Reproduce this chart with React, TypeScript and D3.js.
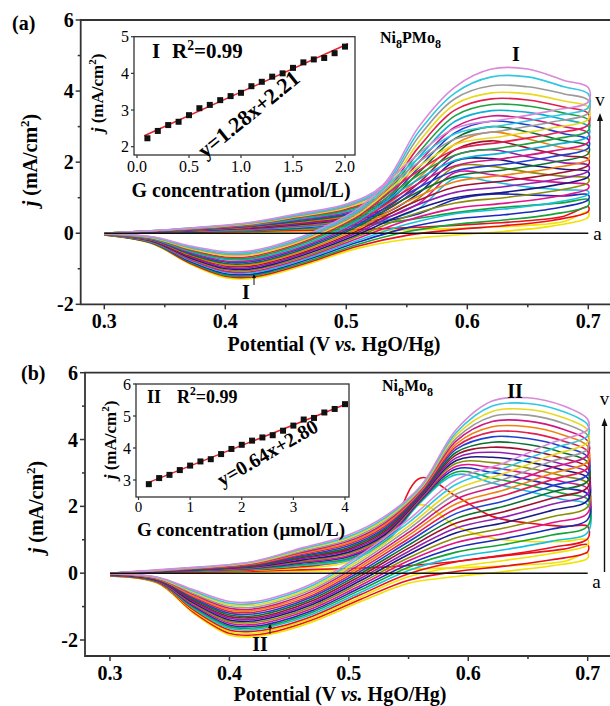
import React from 'react';
import * as d3 from 'd3';

const SERIF = '"Liberation Serif", "Times New Roman", Times, serif';

// potential grid (V) for the anodic and the cathodic half of every scan
const fwdV = [0.30, 0.36, 0.42, 0.46, 0.50, 0.53, 0.56, 0.59, 0.62, 0.65, 0.68, 0.70];
const revV = [0.70, 0.67, 0.63, 0.59, 0.55, 0.51, 0.47, 0.44, 0.42, 0.40, 0.37, 0.34, 0.30];

// (a) Ni8PMo8, lowest glucose level first
const fwdA = [
  [0, 0.01, 0.03, 0.05, 0.06, 0.08, 0.10, 0.13, 0.17, 0.22, 0.33, 0.60],
  [0, 0.02, 0.05, 0.08, 0.10, 0.13, 0.17, 0.22, 0.28, 0.35, 0.48, 0.75],
  [0, 0.03, 0.07, 0.12, 0.19, 0.28, 0.42, 0.58, 0.70, 0.78, 0.86, 0.95],
  [0, 0.03, 0.09, 0.15, 0.23, 0.33, 0.55, 0.95, 1.10, 1.08, 1.05, 1.08],
  [0, 0.04, 0.10, 0.17, 0.26, 0.35, 0.70, 1.55, 1.45, 1.30, 1.22, 1.18],
  [0, 0.05, 0.11, 0.20, 0.30, 0.41, 0.84, 1.71, 1.65, 1.50, 1.42, 1.36],
  [0, 0.05, 0.13, 0.22, 0.33, 0.48, 0.99, 1.87, 1.88, 1.72, 1.60, 1.55],
  [0, 0.06, 0.14, 0.24, 0.37, 0.54, 1.13, 2.03, 2.10, 1.92, 1.80, 1.73],
  [0, 0.06, 0.15, 0.26, 0.40, 0.60, 1.28, 2.19, 2.35, 2.15, 1.98, 1.91],
  [0, 0.07, 0.16, 0.29, 0.44, 0.66, 1.42, 2.35, 2.60, 2.40, 2.18, 2.09],
  [0, 0.07, 0.18, 0.31, 0.47, 0.73, 1.56, 2.51, 2.85, 2.65, 2.40, 2.28],
  [0, 0.08, 0.19, 0.33, 0.51, 0.79, 1.71, 2.67, 3.00, 2.85, 2.60, 2.46],
  [0, 0.08, 0.20, 0.36, 0.54, 0.85, 1.85, 2.83, 3.15, 3.05, 2.80, 2.64],
  [0, 0.09, 0.21, 0.38, 0.58, 0.91, 2.00, 2.99, 3.30, 3.22, 3.00, 2.82],
  [0, 0.09, 0.23, 0.40, 0.61, 0.98, 2.14, 3.15, 3.45, 3.40, 3.20, 3.01],
  [0, 0.10, 0.24, 0.43, 0.65, 1.04, 2.28, 3.31, 3.62, 3.58, 3.38, 3.19],
  [0, 0.10, 0.25, 0.45, 0.68, 1.10, 2.43, 3.47, 3.78, 3.75, 3.55, 3.37],
  [0, 0.11, 0.26, 0.47, 0.72, 1.16, 2.57, 3.63, 3.95, 3.92, 3.72, 3.55],
  [0, 0.11, 0.28, 0.49, 0.75, 1.23, 2.72, 3.79, 4.15, 4.12, 3.92, 3.74],
  [0, 0.12, 0.29, 0.52, 0.79, 1.29, 2.86, 3.95, 4.40, 4.40, 4.12, 3.92],
  [0, 0.12, 0.30, 0.55, 0.82, 1.35, 3.00, 4.12, 4.62, 4.62, 4.30, 4.10],
];
const revA = [
  [0.45, 0.20, 0.05, -0.05, -0.17, -0.42, -0.85, -1.15, -1.28, -1.25, -0.85, -0.30, -0.05],
  [0.61, 0.36, 0.21, 0.10, -0.06, -0.36, -0.81, -1.11, -1.24, -1.21, -0.83, -0.29, -0.05],
  [0.78, 0.53, 0.37, 0.25, 0.04, -0.31, -0.77, -1.07, -1.20, -1.18, -0.80, -0.28, -0.05],
  [0.94, 0.69, 0.52, 0.40, 0.15, -0.25, -0.72, -1.03, -1.16, -1.14, -0.78, -0.27, -0.04],
  [1.10, 0.85, 0.68, 0.55, 0.25, -0.20, -0.68, -0.99, -1.12, -1.10, -0.75, -0.26, -0.04],
  [1.26, 1.01, 0.84, 0.70, 0.36, -0.14, -0.64, -0.95, -1.09, -1.07, -0.73, -0.25, -0.04],
  [1.43, 1.18, 1.00, 0.85, 0.47, -0.08, -0.60, -0.91, -1.05, -1.03, -0.70, -0.24, -0.04],
  [1.59, 1.34, 1.15, 1.00, 0.57, -0.03, -0.55, -0.87, -1.01, -0.99, -0.68, -0.23, -0.03],
  [1.75, 1.50, 1.31, 1.15, 0.68, 0.03, -0.51, -0.83, -0.97, -0.96, -0.65, -0.22, -0.03],
  [1.91, 1.66, 1.47, 1.30, 0.78, 0.08, -0.47, -0.79, -0.93, -0.92, -0.63, -0.21, -0.03],
  [2.08, 1.83, 1.63, 1.45, 0.89, 0.14, -0.43, -0.75, -0.89, -0.89, -0.60, -0.20, -0.03],
  [2.24, 1.99, 1.78, 1.60, 1.00, 0.20, -0.38, -0.71, -0.85, -0.85, -0.58, -0.19, -0.02],
  [2.40, 2.15, 1.94, 1.75, 1.10, 0.25, -0.34, -0.67, -0.81, -0.81, -0.55, -0.18, -0.02],
  [2.56, 2.31, 2.10, 1.90, 1.21, 0.31, -0.30, -0.63, -0.77, -0.78, -0.53, -0.17, -0.02],
  [2.73, 2.48, 2.26, 2.05, 1.31, 0.36, -0.26, -0.59, -0.73, -0.74, -0.50, -0.16, -0.02],
  [2.89, 2.64, 2.41, 2.20, 1.42, 0.42, -0.21, -0.55, -0.70, -0.70, -0.48, -0.15, -0.01],
  [3.05, 2.80, 2.57, 2.35, 1.53, 0.48, -0.17, -0.51, -0.66, -0.67, -0.45, -0.14, -0.01],
  [3.21, 2.96, 2.73, 2.50, 1.63, 0.53, -0.13, -0.47, -0.62, -0.63, -0.43, -0.13, -0.01],
  [3.38, 3.13, 2.89, 2.65, 1.74, 0.59, -0.09, -0.43, -0.58, -0.59, -0.40, -0.12, -0.01],
  [3.54, 3.29, 3.04, 2.80, 1.84, 0.64, -0.04, -0.39, -0.54, -0.56, -0.38, -0.11, 0.00],
  [3.70, 3.45, 3.20, 2.95, 1.95, 0.70, 0.00, -0.35, -0.50, -0.52, -0.35, -0.10, 0.00],
];

// (b) Ni8Mo8
const fwdB = [
  [0, 0.02, 0.04, 0.06, 0.08, 0.10, 0.13, 0.16, 0.20, 0.25, 0.35, 0.60],
  [0, 0.03, 0.06, 0.10, 0.14, 0.18, 0.25, 0.35, 0.48, 0.60, 0.72, 0.85],
  [0, 0.04, 0.09, 0.16, 0.35, 1.20, 2.05, 1.40, 1.05, 0.95, 0.95, 1.00],
  [0, 0.04, 0.10, 0.19, 0.40, 1.00, 2.85, 2.30, 1.70, 1.50, 1.40, 1.40],
  [0, 0.05, 0.12, 0.23, 0.39, 0.90, 2.12, 2.95, 2.70, 2.45, 2.20, 2.05],
  [0, 0.06, 0.13, 0.26, 0.44, 0.95, 2.15, 3.03, 2.85, 2.63, 2.38, 2.21],
  [0, 0.07, 0.15, 0.30, 0.49, 1.00, 2.18, 3.12, 3.01, 2.80, 2.55, 2.37],
  [0, 0.07, 0.16, 0.33, 0.53, 1.05, 2.21, 3.20, 3.16, 2.98, 2.73, 2.53],
  [0, 0.08, 0.18, 0.36, 0.58, 1.10, 2.24, 3.29, 3.31, 3.15, 2.90, 2.69],
  [0, 0.08, 0.19, 0.39, 0.63, 1.15, 2.27, 3.37, 3.47, 3.33, 3.08, 2.85],
  [0, 0.09, 0.21, 0.43, 0.68, 1.20, 2.30, 3.45, 3.62, 3.50, 3.25, 3.00],
  [0, 0.10, 0.22, 0.46, 0.72, 1.25, 2.33, 3.54, 3.77, 3.68, 3.43, 3.16],
  [0, 0.10, 0.23, 0.49, 0.77, 1.30, 2.36, 3.62, 3.92, 3.85, 3.60, 3.32],
  [0, 0.11, 0.25, 0.52, 0.82, 1.35, 2.39, 3.71, 4.08, 4.03, 3.78, 3.48],
  [0, 0.11, 0.26, 0.56, 0.87, 1.40, 2.42, 3.79, 4.23, 4.20, 3.95, 3.64],
  [0, 0.12, 0.28, 0.59, 0.91, 1.45, 2.45, 3.87, 4.38, 4.38, 4.13, 3.80],
  [0, 0.13, 0.29, 0.62, 0.96, 1.50, 2.48, 3.96, 4.54, 4.55, 4.30, 3.96],
  [0, 0.13, 0.31, 0.65, 1.01, 1.55, 2.51, 4.04, 4.69, 4.73, 4.48, 4.12],
  [0, 0.14, 0.32, 0.69, 1.06, 1.60, 2.54, 4.13, 4.84, 4.90, 4.65, 4.28],
  [0, 0.14, 0.34, 0.72, 1.10, 1.65, 2.57, 4.21, 5.00, 5.08, 4.83, 4.44],
  [0, 0.15, 0.35, 0.75, 1.15, 1.70, 2.60, 4.30, 5.15, 5.25, 5.00, 4.60],
];
const revB = [
  [0.45, 0.22, 0.05, -0.10, -0.30, -0.85, -1.45, -1.78, -1.90, -1.85, -1.20, -0.30, -0.08],
  [0.64, 0.40, 0.21, 0.05, -0.21, -0.78, -1.39, -1.73, -1.85, -1.80, -1.17, -0.29, -0.08],
  [0.84, 0.59, 0.38, 0.19, -0.11, -0.71, -1.34, -1.67, -1.80, -1.75, -1.13, -0.28, -0.07],
  [1.03, 0.77, 0.54, 0.34, -0.02, -0.64, -1.28, -1.62, -1.74, -1.70, -1.10, -0.27, -0.07],
  [1.22, 0.96, 0.70, 0.48, 0.08, -0.57, -1.22, -1.56, -1.69, -1.65, -1.06, -0.26, -0.06],
  [1.41, 1.14, 0.86, 0.63, 0.18, -0.50, -1.16, -1.51, -1.64, -1.60, -1.03, -0.26, -0.06],
  [1.61, 1.32, 1.03, 0.77, 0.27, -0.43, -1.11, -1.46, -1.59, -1.55, -0.99, -0.25, -0.06],
  [1.80, 1.51, 1.19, 0.92, 0.37, -0.36, -1.05, -1.40, -1.54, -1.50, -0.96, -0.24, -0.05],
  [1.99, 1.69, 1.35, 1.06, 0.46, -0.29, -0.99, -1.35, -1.48, -1.45, -0.92, -0.23, -0.05],
  [2.18, 1.88, 1.51, 1.21, 0.56, -0.22, -0.93, -1.29, -1.43, -1.40, -0.89, -0.22, -0.04],
  [2.38, 2.06, 1.68, 1.35, 0.65, -0.15, -0.88, -1.24, -1.38, -1.35, -0.85, -0.21, -0.04],
  [2.57, 2.24, 1.84, 1.50, 0.75, -0.08, -0.82, -1.19, -1.33, -1.30, -0.82, -0.20, -0.04],
  [2.76, 2.43, 2.00, 1.64, 0.84, -0.01, -0.76, -1.13, -1.28, -1.25, -0.78, -0.19, -0.03],
  [2.95, 2.61, 2.16, 1.79, 0.94, 0.06, -0.70, -1.08, -1.22, -1.20, -0.75, -0.18, -0.03],
  [3.15, 2.80, 2.33, 1.93, 1.03, 0.13, -0.65, -1.02, -1.17, -1.15, -0.71, -0.17, -0.02],
  [3.34, 2.98, 2.49, 2.08, 1.13, 0.20, -0.59, -0.97, -1.12, -1.10, -0.68, -0.17, -0.02],
  [3.53, 3.16, 2.65, 2.22, 1.22, 0.27, -0.53, -0.92, -1.07, -1.05, -0.64, -0.16, -0.02],
  [3.72, 3.35, 2.81, 2.37, 1.32, 0.34, -0.47, -0.86, -1.02, -1.00, -0.61, -0.15, -0.01],
  [3.92, 3.53, 2.98, 2.51, 1.41, 0.41, -0.42, -0.81, -0.96, -0.95, -0.57, -0.14, -0.01],
  [4.11, 3.72, 3.14, 2.66, 1.51, 0.48, -0.36, -0.75, -0.91, -0.90, -0.54, -0.13, 0.00],
  [4.30, 3.90, 3.30, 2.80, 1.60, 0.55, -0.30, -0.70, -0.86, -0.85, -0.50, -0.12, 0.00],
];

const colorsA = ['#f2e200', '#e8101a', '#16a336', '#1b2ab8', '#16c0dd', '#e0148c', '#8c8c0a',
  '#1a1a80', '#9020b0', '#a01030', '#f08010', '#0c7030', '#2040d0', '#d01880', '#10b0d0',
  '#20a040', '#e02050', '#e8d820', '#9a9a9a', '#30c8e0', '#d889d8'];
const colorsB = ['#f2e200', '#e8101a', '#f2e200', '#e8101a', '#16c0dd', '#16a336', '#1b2ab8',
  '#e0148c', '#8c8c0a', '#1a1a80', '#9020b0', '#a01030', '#0c7030', '#2040d0', '#e02050',
  '#f08010', '#d01880', '#9a9a9a', '#e8d820', '#30c8e0', '#d889d8'];

const xTicks = [0.3, 0.4, 0.5, 0.6, 0.7];
const xMinor = [0.35, 0.45, 0.55, 0.65];
const yTicks = [-2, 0, 2, 4, 6];
const yMinor = [-1, 1, 3, 5];

// insets: peak current vs glucose concentration
const concA = [0.1, 0.2, 0.3, 0.4, 0.5, 0.6, 0.7, 0.8, 0.9, 1.0, 1.1, 1.2, 1.3, 1.4, 1.5, 1.6, 1.7, 1.8, 1.9, 2.0];
const peakA = [2.23, 2.43, 2.59, 2.68, 2.86, 3.05, 3.14, 3.27, 3.38, 3.47, 3.65, 3.77, 3.91, 4.00, 4.15, 4.30, 4.38, 4.42, 4.55, 4.73];
const concB = [0.2, 0.4, 0.6, 0.8, 1.0, 1.2, 1.4, 1.6, 1.8, 2.0, 2.2, 2.4, 2.6, 2.8, 3.0, 3.2, 3.4, 3.6, 3.8, 4.0];
const peakB = [2.87, 3.06, 3.16, 3.31, 3.45, 3.58, 3.65, 3.81, 3.97, 4.10, 4.23, 4.33, 4.40, 4.54, 4.70, 4.89, 4.94, 5.11, 5.22, 5.37];
const insetXTicksA = [0, 0.5, 1, 1.5, 2];
const insetYTicksA = [2, 3, 4, 5];
const insetXTicksB = [0, 1, 2, 3, 4];
const insetYTicksB = [3, 4, 5, 6];

const AXIS = '#333';

function Panel({ lay, fwd, rev, colors }: any) {
  const x = d3.scaleLinear().domain([0.3, 0.7]).range([lay.x0, lay.x1]);
  const y = d3.scaleLinear().domain([-2, 6]).range([lay.yLo, lay.yHi]);
  const line = d3.line().curve(d3.curveCatmullRom.alpha(0.5));
  const right = 615;
  return (
    <g fontFamily={SERIF}>
      {fwd.map((f: number[], k: number) => {
        const pts: [number, number][] = [
          ...fwdV.map((v, i) => [x(v), y(f[i])] as [number, number]),
          ...revV.map((v, i) => [x(v), y(rev[k][i])] as [number, number]),
        ];
        return <path key={k} d={line(pts) || ''} fill="none" stroke={colors[k]} strokeWidth={1.6} />;
      })}
      <path d={line([[x(0.3), y(0)], [x(0.7), y(0)]]) || ''} stroke="#111" strokeWidth={1.6} fill="none" />
      <path d={`M${right},${lay.top}H${lay.left}V${lay.bottom}H${right}`} fill="none" stroke={AXIS} strokeWidth={1.8} />
      {yTicks.map(t => (
        <g key={t}>
          <line x1={lay.left - 5} x2={lay.left} y1={y(t)} y2={y(t)} stroke={AXIS} strokeWidth={1.5} />
          <text x={lay.left - 7} y={y(t)} dy="0.35em" textAnchor="end" fontSize={20} fontWeight="bold">{t}</text>
        </g>
      ))}
      {yMinor.map(t => (
        <line key={t} x1={lay.left - 3} x2={lay.left} y1={y(t)} y2={y(t)} stroke={AXIS} strokeWidth={1.5} />
      ))}
      {xTicks.map(t => (
        <g key={t}>
          <line x1={x(t)} x2={x(t)} y1={lay.bottom} y2={lay.bottom + 5} stroke={AXIS} strokeWidth={1.5} />
          <text x={x(t)} y={lay.bottom + 24} textAnchor="middle" fontSize={20} fontWeight="bold">{d3.format('.1f')(t)}</text>
        </g>
      ))}
      {xMinor.map(t => (
        <line key={t} x1={x(t)} x2={x(t)} y1={lay.bottom} y2={lay.bottom + 3} stroke={AXIS} strokeWidth={1.5} />
      ))}
      <text x={lay.xTitleX} y={lay.xTitleY} textAnchor="middle" fontSize={20} fontWeight="bold">
        {'Potential (V '}<tspan fontStyle="italic">vs.</tspan>{' HgO/Hg)'}
      </text>
      <text transform={`translate(${lay.yTitleX},${lay.yTitleY}) rotate(-90)`} textAnchor="middle" fontSize={20} fontWeight="bold">
        <tspan fontStyle="italic">j</tspan>{' (mA/cm'}<tspan dy={-8} fontSize={13}>2</tspan><tspan dy={8}>)</tspan>
      </text>
      <text x={lay.tagX} y={lay.tagY} fontSize={20} fontWeight="bold">{lay.tag}</text>
      <text x={lay.compX} y={lay.compY} fontSize={16} fontWeight="bold">
        {lay.compound[0]}<tspan dy={5} fontSize={12}>{lay.compound[1]}</tspan>
        <tspan dy={-5}>{lay.compound[2]}</tspan><tspan dy={5} fontSize={12}>{lay.compound[3]}</tspan>
      </text>
      <text x={lay.peakX} y={lay.peakY} textAnchor="middle" fontSize={20} fontWeight="bold">{lay.peak}</text>
      <text x={lay.valleyX} y={lay.valleyY} textAnchor="middle" fontSize={20} fontWeight="bold">{lay.valley}</text>
      <line x1={lay.arrowX} x2={lay.arrowX} y1={lay.arrowY0} y2={lay.arrowY1} stroke="#111" strokeWidth={1} />
      <path d={`M${lay.arrowX - 2},${lay.arrowY1 + 3}L${lay.arrowX},${lay.arrowY1 - 1}L${lay.arrowX + 2},${lay.arrowY1 + 3}Z`} fill="#111" />
      <line x1={lay.vX} x2={lay.vX} y1={lay.vArrowBot} y2={lay.vArrowTop + 6} stroke="#111" strokeWidth={1.4} />
      <path d={`M${lay.vX - 3},${lay.vArrowTop + 8}L${lay.vX},${lay.vArrowTop}L${lay.vX + 3},${lay.vArrowTop + 8}Z`} fill="#111" />
      <text x={lay.vX} y={lay.vY} textAnchor="middle" fontSize={19}>v</text>
      <text x={lay.aX} y={lay.aY} textAnchor="middle" fontSize={19}>a</text>
    </g>
  );
}

function Inset({ ins, conc, peak, xTicks: xt, yTicks: yt }: any) {
  const x = d3.scaleLinear().domain(ins.xd).range(ins.xr);
  const y = d3.scaleLinear().domain(ins.yd).range(ins.yr);
  const fit = d3.line()([ins.fitX[0], ins.fitX[1]].map(c => [x(c), y(ins.slope * c + ins.icpt)] as [number, number]));
  return (
    <g fontFamily={SERIF}>
      <rect x={ins.l} y={ins.t} width={ins.r - ins.l} height={ins.b - ins.t} fill="#fff" stroke={AXIS} strokeWidth={1.3} />
      {yt.map((t: number) => (
        <g key={t}>
          <line x1={ins.l - 3} x2={ins.l} y1={y(t)} y2={y(t)} stroke={AXIS} strokeWidth={1.2} />
          <text x={ins.l - 5} y={y(t)} dy="0.35em" textAnchor="end" fontSize={16}>{t}</text>
        </g>
      ))}
      {xt.map((t: number) => (
        <g key={t}>
          <line x1={x(t)} x2={x(t)} y1={ins.b} y2={ins.b + 3} stroke={AXIS} strokeWidth={1.2} />
          <text x={x(t)} y={ins.tickY} textAnchor="middle" fontSize={ins.tickSize}>{ins.fmt(t)}</text>
        </g>
      ))}
      <path d={fit || ''} stroke="#e8202a" strokeWidth={1.5} fill="none" />
      {conc.map((c: number, i: number) => (
        <rect key={i} x={x(c) - 3} y={y(peak[i]) - 3} width={6} height={6} fill="#111" />
      ))}
      <text x={ins.titleX} y={ins.titleY} textAnchor="middle" fontSize={ins.titleSize} fontWeight="bold">G concentration (μmol/L)</text>
      <text transform={`translate(${ins.ytX},${ins.ytY}) rotate(-90)`} textAnchor="middle" fontSize={17} fontWeight="bold">
        <tspan fontStyle="italic">j</tspan>{' (mA/cm'}<tspan dy={-7} fontSize={11}>2</tspan><tspan dy={7}>)</tspan>
      </text>
      <text x={ins.romanX} y={ins.textY} fontSize={ins.textSize} fontWeight="bold">{ins.roman}</text>
      <text x={ins.r2X} y={ins.textY} fontSize={ins.textSize} fontWeight="bold">
        {'R'}<tspan dy={-8} fontSize={ins.textSize * 0.65}>2</tspan><tspan dy={8}>=0.99</tspan>
      </text>
      <text transform={`translate(${ins.eqX},${ins.eqY}) rotate(${ins.eqAngle})`} fontSize={ins.eqSize} fontWeight="bold">{ins.eq}</text>
    </g>
  );
}

const layA = {
  left: 80.7, top: 20, bottom: 304.3, x0: 104.3, x1: 588.3, yLo: 304.3, yHi: 20,
  tag: '(a)', tagX: 12, tagY: 30, compound: ['Ni', '8', 'PMo', '8'], compX: 380, compY: 43,
  peak: 'I', peakX: 516, peakY: 61, valley: 'I', valleyX: 246, valleyY: 299,
  arrowX: 254, arrowY0: 285, arrowY1: 275,
  vX: 600, vY: 106, vArrowTop: 113, vArrowBot: 222, aX: 597.5, aY: 240,
  xTitleX: 334, xTitleY: 351, yTitleX: 37, yTitleY: 160,
};
const layB = {
  left: 85, top: 372.7, bottom: 656, x0: 110, x1: 587.7, yLo: 640, yHi: 372.7,
  tag: '(b)', tagX: 21, tagY: 380, compound: ['Ni', '8', 'Mo', '8'], compX: 382, compY: 391,
  peak: 'II', peakX: 515, peakY: 398, valley: 'II', valleyX: 260, valleyY: 651,
  arrowX: 270, arrowY0: 634, arrowY1: 625,
  vX: 604.5, vY: 405, vArrowTop: 418, vArrowBot: 572, aX: 596.5, aY: 588,
  xTitleX: 340, xTitleY: 701, yTitleX: 43, yTitleY: 507,
};

const insA = {
  l: 134, t: 36.7, r: 355, b: 155, xd: [0, 2], xr: [137, 345], yd: [2, 5], yr: [146.7, 36.7],
  fmt: d3.format('.1f'), tickY: 172, tickSize: 16, titleX: 241, titleY: 197, titleSize: 20, ytX: 103, ytY: 93,
  roman: 'I', romanX: 152, r2X: 172, textY: 58, textSize: 21,
  slope: 1.28, icpt: 2.21, fitX: [0.07, 2.03],
  eq: 'y=1.28x+2.21', eqX: 205, eqY: 159, eqAngle: -39, eqSize: 22,
};
const insB = {
  l: 136, t: 384, r: 349, b: 497, xd: [0, 4], xr: [138.5, 345], yd: [3, 6], yr: [480, 384],
  fmt: d3.format('d'), tickY: 512, tickSize: 15, titleX: 241, titleY: 536, titleSize: 19, ytX: 116, ytY: 440,
  roman: 'II', romanX: 147, r2X: 177, textY: 403, textSize: 18,
  slope: 0.64, icpt: 2.80, fitX: [0.15, 4.05],
  eq: 'y=0.64x+2.80', eqX: 222, eqY: 487, eqAngle: -30, eqSize: 20,
};

export default function App() {
  return (
    <svg width={610} height={706} style={{ position: 'absolute', left: 0, top: 0, background: '#fff' }}>
      <Panel lay={layA} fwd={fwdA} rev={revA} colors={colorsA} />
      <Inset ins={insA} conc={concA} peak={peakA} xTicks={insetXTicksA} yTicks={insetYTicksA} />
      <Panel lay={layB} fwd={fwdB} rev={revB} colors={colorsB} />
      <Inset ins={insB} conc={concB} peak={peakB} xTicks={insetXTicksB} yTicks={insetYTicksB} />
    </svg>
  );
}
